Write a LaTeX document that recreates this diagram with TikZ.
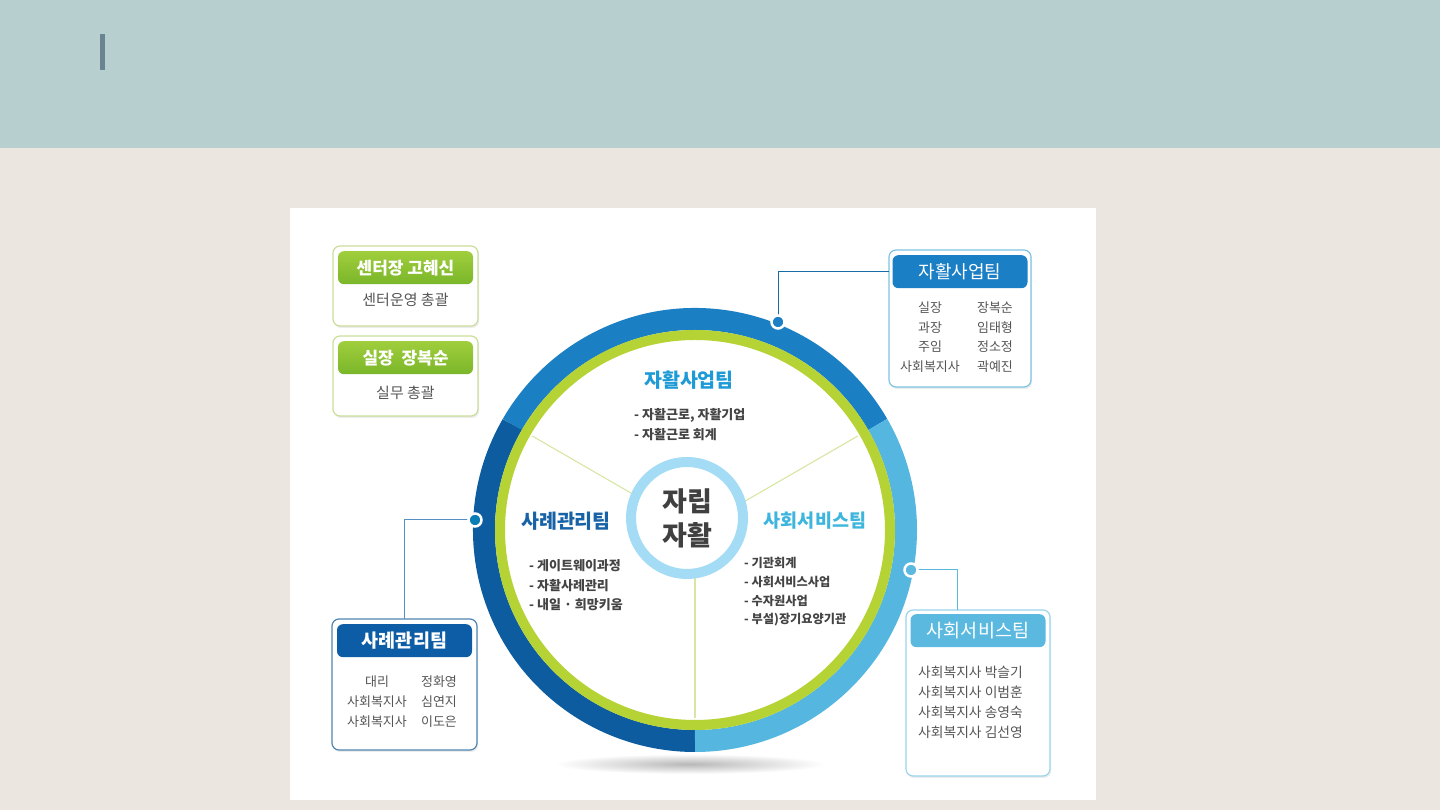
\documentclass[tikz,border=0pt]{standalone}
\usepackage{fontspec}
\setmainfont{Noto Sans CJK KR}
\usetikzlibrary{positioning,shadows}
\definecolor{bandgray}{HTML}{B8CFD0}
\definecolor{pagebg}{HTML}{EBE6E0}
\definecolor{barblue}{HTML}{6A8591}
\definecolor{ringtop}{HTML}{1B7FC4}
\definecolor{ringleft}{HTML}{0C5C9F}
\definecolor{ringright}{HTML}{55B6DF}
\definecolor{ringgreen}{HTML}{B5D334}
\definecolor{spokegreen}{HTML}{D8E6A4}
\definecolor{coreblue}{HTML}{A3DCF4}
\definecolor{txtcore}{HTML}{404040}
\definecolor{txtdark}{HTML}{444444}
\definecolor{txtgray}{HTML}{555555}
\definecolor{tjahwal}{HTML}{1E9AD6}
\definecolor{tcase}{HTML}{1863A8}
\definecolor{tsocial}{HTML}{3DB5DD}
\definecolor{grntop}{HTML}{A0CE3C}
\definecolor{grnbot}{HTML}{7AB62A}
\definecolor{grnline}{HTML}{C9DE9B}
\definecolor{hdrj}{HTML}{1B7FC6}
\definecolor{linej}{HTML}{7DC3E3}
\definecolor{hdrc}{HTML}{0C5DA5}
\definecolor{linec}{HTML}{4F85B2}
\definecolor{hdrs}{HTML}{5BB9E0}
\definecolor{lines}{HTML}{9AD5EC}
\begin{document}
\begin{tikzpicture}[x=1pt,y=1pt]
			\tikzstyle{box} = [draw, rounded corners=7pt, fill=white, line width=1.2pt, inner sep=0pt, outer sep=0pt, drop shadow={shadow xshift=1pt,shadow yshift=-2pt,opacity=0.15}];
			\tikzstyle{hdr} = [rounded corners=6pt, inner sep=0pt, minimum width=135pt, minimum height=33pt, text=white];
			\tikzstyle{memb} = [inner sep=0pt, text=txtgray, font=\fontsize{13}{15}\selectfont];
			\tikzstyle{item} = [anchor=west, inner sep=0pt, text=txtdark, font=\bfseries\fontsize{13}{15}\selectfont];
			\tikzstyle{teamlbl} = [inner sep=0pt, font=\bfseries\fontsize{19.5}{22}\selectfont];
			\tikzstyle{spoke} = [spokegreen, line width=1.1pt];
			\tikzstyle{dot} = [circle, draw=white, line width=2.5pt, minimum size=13pt, inner sep=0pt];
			\useasboundingbox (0,0) rectangle (1440,810);
			\fill[pagebg] (0,0) rectangle (1440,810);
			\fill[bandgray] (0,662) rectangle (1440,810);
			\fill[barblue] (100,740) rectangle (105,776);
			\fill[white] (290,10) rectangle (1096,602);
			\coordinate (ctr) at (695,280);
			\shade[inner color=black!28, outer color=white] (690,46) ellipse [x radius=135, y radius=10];
			\draw[line width=22pt, ringtop] (ctr) ++(30:211) arc[start angle=30, end angle=150, radius=211];
			\draw[line width=22pt, ringleft] (ctr) ++(150:211) arc[start angle=150, end angle=270, radius=211];
			\draw[line width=22pt, ringright] (ctr) ++(270:211) arc[start angle=270, end angle=390, radius=211];
			\draw[line width=10pt, ringgreen] (ctr) circle[radius=195];
			\foreach \a in {30,150,270}
				\draw[spoke] (ctr) -- ([shift={(\a:188)}]ctr);
			\node[circle, fill=white, draw=coreblue, line width=10pt, minimum size=112pt, inner sep=0pt, align=center, text=txtcore, font=\bfseries\fontsize{27}{34}\selectfont] (core) at (687,292) {자립\\자활};
			\node[teamlbl, text=tjahwal] (lj) at (689,430) {자활사업팀};
			\node[teamlbl, text=tcase] (lc) at (566,289) {사례관리팀};
			\node[teamlbl, text=tsocial, font=\bfseries\fontsize{18.5}{21}\selectfont] (ls) at (815,289) {사회서비스팀};
			\foreach \t [count=\i] in {{- 자활근로, 자활기업},{- 자활근로 회계}}
				\node[item] (ij\i) at (634,415-20*\i) {\t};
			\foreach \t [count=\i] in {{- 게이트웨이과정},{- 자활사례관리},{- 내일 · 희망키움}}
				\node[item] (ic\i) at (529,263.5-19.5*\i) {\t};
			\foreach \t [count=\i] in {{- 기관회계},{- 사회서비스사업},{- 수자원사업},{- 부설)장기요양기관}}
				\node[item, font=\bfseries\fontsize{12.2}{15}\selectfont] (is\i) at (744,266-19*\i) {\t};
			\node[box, draw=grnline, minimum width=145pt, minimum height=80pt] (box1) at (405.5,524) {};
			\node[hdr, top color=grntop, bottom color=grnbot, font=\bfseries\fontsize{17}{20}\selectfont, below=5pt of box1.north] (hdr1) {센터장 고혜신};
			\node[memb, font=\fontsize{15}{17}\selectfont] (body1) at (405.5,510) {센터운영 총괄};
			\node[box, draw=grnline, minimum width=145pt, minimum height=80pt] (box2) at (405.5,434) {};
			\node[hdr, top color=grntop, bottom color=grnbot, font=\bfseries\fontsize{17}{20}\selectfont, below=5pt of box2.north] (hdr2) {실장\ \ 장복순};
			\node[memb, font=\fontsize{15}{17}\selectfont] (body2) at (405.5,417) {실무 총괄};
			\node[box, draw=linej, minimum width=142pt, minimum height=137pt] (boxj) at (960,491.5) {};
			\node[hdr, fill=hdrj, font=\fontsize{18}{21}\selectfont, below=5pt of boxj.north] (hdrj) {자활사업팀};
			\foreach \r/\n [count=\i] in {실장/장복순,과장/임태형,주임/정소정,사회복지사/곽예진} {
				\node[memb] (jr\i) at (930,521.5-19.5*\i) {\r};
				\node[memb] (jn\i) at (995,521.5-19.5*\i) {\n};
			}
			\node[box, draw=linec, minimum width=145pt, minimum height=131pt] (boxc) at (404.5,125.5) {};
			\node[hdr, fill=hdrc, font=\bfseries\fontsize{18.5}{21}\selectfont, below=5pt of boxc.north] (hdrc) {사례관리팀};
			\foreach \r/\n [count=\i] in {대리/정화영,사회복지사/심연지,사회복지사/이도은} {
				\node[memb] (cr\i) at (377,148-20*\i) {\r};
				\node[memb] (cn\i) at (439,148-20*\i) {\n};
			}
			\node[box, draw=lines, minimum width=144pt, minimum height=166pt] (boxs) at (978,117) {};
			\node[hdr, fill=hdrs, font=\fontsize{18.5}{21}\selectfont, below=4pt of boxs.north] (hdrs) {사회서비스팀};
			\foreach \n [count=\i] in {박슬기,이범훈,송영숙,김선영}
				\node[memb, anchor=west, font=\fontsize{13.8}{16}\selectfont] (sr\i) at (918,158-20*\i) {사회복지사 \n};
			\coordinate (dj) at (778,488);
			\coordinate (dc) at (475,290);
			\coordinate (ds) at (911,240);
			\draw[color=hdrj!85!black, line width=1pt] (dj) |- (hdrj.west -| boxj.west);
			\draw[color=hdrc!70!white, line width=1pt] (dc) -| (boxc.north);
			\draw[color=hdrs, line width=1pt] (ds) -| ([xshift=-21pt]boxs.north);
			\node[dot, fill=hdrj] (pj) at (dj) {};
			\node[dot, fill=hdrc!80!cyan] (pc) at (dc) {};
			\node[dot, fill=hdrs] (ps) at (ds) {};
		\end{tikzpicture}
\end{document}
